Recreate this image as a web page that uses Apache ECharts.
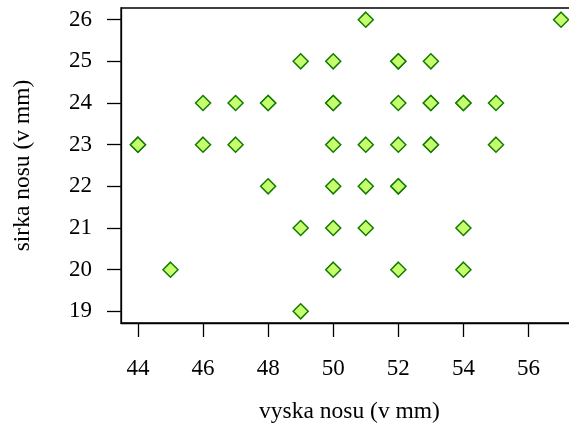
<!DOCTYPE html>
<html>
<head>
<meta charset="utf-8">
<script src="https://cdn.jsdelivr.net/npm/echarts@6/dist/echarts.min.js"></script>
<style>
  html, body { margin: 0; padding: 0; background: #fff; }
  #chart { width: 569px; height: 424px; }
</style>
</head>
<body>
<div id="chart"></div>
<script>
// vyska nosu (x) / sirka nosu (y), duplicates kept where the marks overlap
const vyska = [51, 57, 49, 50, 52, 52, 53, 46, 47, 48, 48, 50, 50, 52, 53, 53, 54, 54, 55,
  44, 44, 46, 47, 50, 51, 52, 53, 53, 55, 48, 50, 51, 52, 52, 49, 50, 51, 54, 45, 50, 52, 54, 49];
const sirka = [26, 26, 25, 25, 25, 25, 25, 24, 24, 24, 24, 24, 24, 24, 24, 24, 24, 24, 24,
  23, 23, 23, 23, 23, 23, 23, 23, 23, 23, 22, 22, 22, 22, 22, 21, 21, 21, 21, 20, 20, 20, 20, 19];
const xTicks = [44, 46, 48, 50, 52, 54, 56];
const yTicks = [19, 20, 21, 22, 23, 24, 25, 26];

const points = vyska.map((v, i) => [v, sirka[i]]);
const font = 'Liberation Serif';

const chart = echarts.init(document.getElementById('chart'));
chart.setOption({
  animation: false,
  grid: {
    // the plot box runs past the right edge of the picture
    left: 121, top: 8, right: -9, bottom: 101,
    outerBoundsMode: 'none',
    show: true, borderColor: '#000', borderWidth: 1.3, backgroundColor: 'transparent'
  },
  xAxis: {
    type: 'value',
    min: 43.48, max: 57.52,
    name: 'vyska nosu (v mm)',
    nameLocation: 'middle',
    nameGap: 77,
    nameTextStyle: { fontFamily: font, fontSize: 23.5, color: '#000' },
    splitLine: { show: false },
    axisLine: { show: true, onZero: false, lineStyle: { color: '#000', width: 1.3 } },
    axisTick: { show: true, length: 14, customValues: xTicks, lineStyle: { color: '#000', width: 1.3 } },
    axisLabel: { customValues: xTicks, margin: 34, fontFamily: font, fontSize: 23, color: '#000' }
  },
  yAxis: {
    type: 'value',
    min: 18.72, max: 26.28,
    name: 'sirka nosu (v mm)',
    nameLocation: 'middle',
    nameGap: 86,
    nameTextStyle: { fontFamily: font, fontSize: 23.5, color: '#000' },
    splitLine: { show: false },
    axisLine: { show: true, onZero: false, lineStyle: { color: '#000', width: 1.3 } },
    axisTick: { show: true, length: 14, customValues: yTicks, lineStyle: { color: '#000', width: 1.3 } },
    axisLabel: { customValues: yTicks, margin: 29, fontFamily: font, fontSize: 23, color: '#000' }
  },
  series: [{
    type: 'scatter',
    data: points,
    symbol: 'diamond',
    symbolSize: [15, 15],
    itemStyle: { color: '#c6ff6e', borderColor: '#157a00', borderWidth: 1.5, opacity: 1 }
  }]
});
</script>
</body>
</html>
